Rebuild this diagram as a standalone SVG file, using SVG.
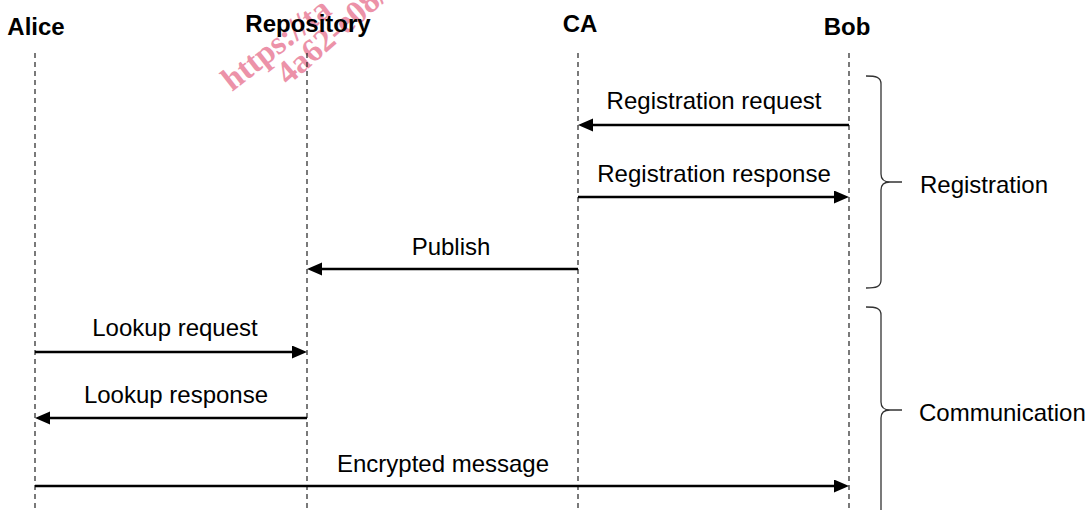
<svg xmlns="http://www.w3.org/2000/svg" width="1086" height="510" viewBox="0 0 1086 510">
  <style>
    .hdr { font-family: "Liberation Sans", Arial, sans-serif; font-weight: bold; font-size: 24px; fill: #000; text-anchor: middle; }
    .lbl { font-family: "Liberation Sans", Arial, sans-serif; font-size: 24px; fill: #000; text-anchor: middle; }
    .grp { font-family: "Liberation Sans", Arial, sans-serif; font-size: 24px; fill: #000; text-anchor: start; }
    .life { stroke: #222; stroke-width: 1.2; stroke-dasharray: 5 4; fill: none; }
    .msg { stroke: #000; stroke-width: 2.5; fill: none; marker-end: url(#arrow); }
    .brace { stroke: #333; stroke-width: 1.3; fill: none; }
    .wm { font-family: "Liberation Serif", "Times New Roman", serif; font-weight: bold; font-size: 33px; fill: #e9809a; opacity: 0.85; }
  </style>
  <defs>
    <marker id="arrow" markerUnits="userSpaceOnUse" markerWidth="16" markerHeight="14" refX="5" refY="6.5" orient="auto">
      <path d="M0,0 L15,6.5 L0,13 Z" fill="#000"/>
    </marker>
  </defs>
  <rect width="1086" height="510" fill="#fff"/>

  <g id="watermark">
    <text class="wm" transform="translate(232,92) rotate(-38)">https://ta</text>
    <text class="wm" transform="translate(288,86) rotate(-41)">4a62-e08/</text>
  </g>

  <g id="alice">
    <text class="hdr" x="36" y="35">Alice</text>
    <line class="life" x1="35" y1="53" x2="35" y2="510"/>
  </g>
  <g id="repository">
    <text class="hdr" x="308" y="32">Repository</text>
    <line class="life" x1="307" y1="53" x2="307" y2="510"/>
  </g>
  <g id="ca">
    <text class="hdr" x="580" y="32">CA</text>
    <line class="life" x1="578" y1="53" x2="578" y2="510"/>
  </g>
  <g id="bob">
    <text class="hdr" x="847" y="35">Bob</text>
    <line class="life" x1="849" y1="53" x2="849" y2="510"/>
  </g>

  <g id="connectors">
    <line class="msg" x1="849" y1="125" x2="588" y2="125"/>
    <text class="lbl" x="714" y="109">Registration request</text>

    <line class="msg" x1="578" y1="197" x2="839" y2="197"/>
    <text class="lbl" x="714" y="182">Registration response</text>

    <line class="msg" x1="578" y1="269" x2="317" y2="269"/>
    <text class="lbl" x="451" y="255">Publish</text>

    <line class="msg" x1="35" y1="352" x2="297" y2="352"/>
    <text class="lbl" x="175" y="336">Lookup request</text>

    <line class="msg" x1="307" y1="418" x2="45" y2="418"/>
    <text class="lbl" x="176" y="403">Lookup response</text>

    <line class="msg" x1="35" y1="486" x2="839" y2="486"/>
    <text class="lbl" x="443" y="472">Encrypted message</text>
  </g>

  <g id="registration-brace">
    <path class="brace" d="M866,76 C876,76 881,77 881,84 L881,174 C881,180 884,182 890,182 L902,182 M890,182 C884,182 881,184 881,190 L881,280 C881,287 876,288 866,288"/>
    <text class="grp" x="920" y="193">Registration</text>
  </g>
  <g id="communication-brace">
    <path class="brace" d="M866,307 C876,307 881,308 881,315 L881,402 C881,408 884,410 890,410 L902,410 M890,410 C884,410 881,412 881,418 L881,515"/>
    <text class="grp" x="919" y="421">Communication</text>
  </g>
</svg>
